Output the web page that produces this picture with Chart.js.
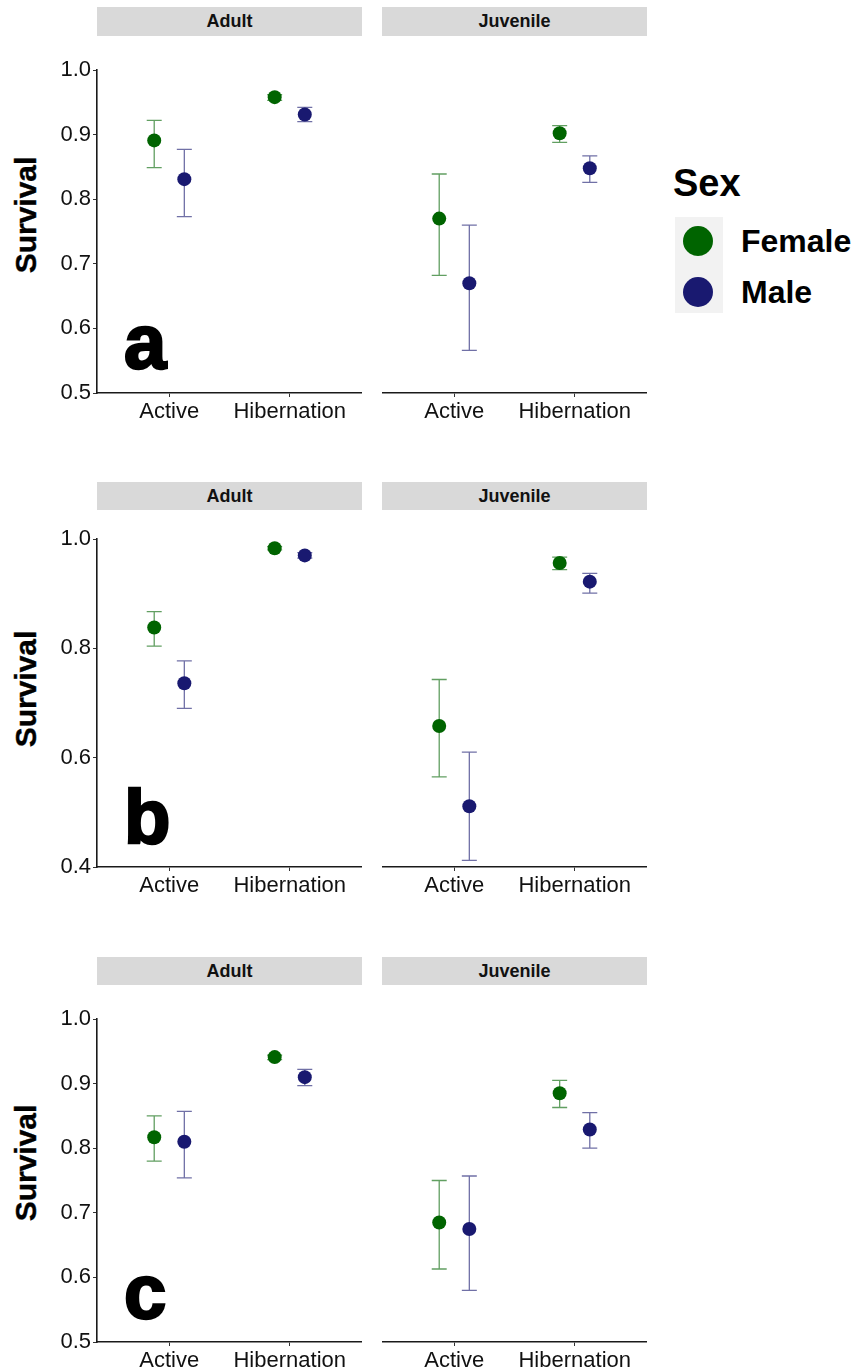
<!DOCTYPE html>
<html><head><meta charset="utf-8">
<script src="https://cdn.jsdelivr.net/npm/chart.js@4/dist/chart.umd.min.js"></script>
<style>
body{margin:0;background:#fff;width:858px;height:1367px;position:relative;overflow:hidden;font-family:"Liberation Sans",Arial,sans-serif;}
.cv{position:absolute;}
.strip{position:absolute;background:#d9d9d9;color:#111;font-weight:bold;font-size:18px;display:flex;align-items:center;justify-content:center;}
.ylab{position:absolute;font-weight:bold;font-size:30px;color:#000;transform:translate(-50%,-50%) rotate(-90deg);white-space:nowrap;-webkit-text-stroke:0.4px #000;}
.letter{position:absolute;font-weight:bold;font-size:76px;line-height:76px;color:#000;-webkit-text-stroke:2.5px #000;}
.leg{position:absolute;font-weight:bold;color:#000;white-space:nowrap;}
.dot{position:absolute;border-radius:50%;}
</style></head>
<body>
<script>
// ---- data ----
const seasons = ['Active', 'Hibernation'];
const ages = ['Adult', 'Juvenile'];
const sexes = ['Female', 'Male'];
const panelLetters = ['a', 'b', 'c'];

// Panel a
const a_Adult_Female = [0.891, 0.958], a_Adult_Female_lo = [0.849, 0.953], a_Adult_Female_hi = [0.922, 0.962];
const a_Adult_Male = [0.831, 0.931], a_Adult_Male_lo = [0.773, 0.920], a_Adult_Male_hi = [0.877, 0.942];
const a_Juvenile_Female = [0.770, 0.902], a_Juvenile_Female_lo = [0.682, 0.888], a_Juvenile_Female_hi = [0.839, 0.914];
const a_Juvenile_Male = [0.670, 0.848], a_Juvenile_Male_lo = [0.566, 0.826], a_Juvenile_Male_hi = [0.760, 0.867];
// Panel b
const b_Adult_Female = [0.838, 0.983], b_Adult_Female_lo = [0.804, 0.980], b_Adult_Female_hi = [0.867, 0.986];
const b_Adult_Male = [0.736, 0.970], b_Adult_Male_lo = [0.690, 0.965], b_Adult_Male_hi = [0.777, 0.975];
const b_Juvenile_Female = [0.658, 0.956], b_Juvenile_Female_lo = [0.565, 0.944], b_Juvenile_Female_hi = [0.743, 0.967];
const b_Juvenile_Male = [0.511, 0.922], b_Juvenile_Male_lo = [0.412, 0.901], b_Juvenile_Male_hi = [0.610, 0.937];
// Panel c
const c_Adult_Female = [0.817, 0.941], c_Adult_Female_lo = [0.780, 0.937], c_Adult_Female_hi = [0.850, 0.944];
const c_Adult_Male = [0.810, 0.910], c_Adult_Male_lo = [0.754, 0.897], c_Adult_Male_hi = [0.857, 0.922];
const c_Juvenile_Female = [0.685, 0.885], c_Juvenile_Female_lo = [0.613, 0.863], c_Juvenile_Female_hi = [0.750, 0.905];
const c_Juvenile_Male = [0.675, 0.829], c_Juvenile_Male_lo = [0.580, 0.800], c_Juvenile_Male_hi = [0.757, 0.855];

// y axis tick labels per row
const yTicksA = [0.5, 0.6, 0.7, 0.8, 0.9, 1.0];
const yTicksB = [0.4, 0.6, 0.8, 1.0];
const yTicksC = [0.5, 0.6, 0.7, 0.8, 0.9, 1.0];

const DATA = {
  a: {Adult: {Female: [a_Adult_Female, a_Adult_Female_lo, a_Adult_Female_hi], Male: [a_Adult_Male, a_Adult_Male_lo, a_Adult_Male_hi]},
      Juvenile: {Female: [a_Juvenile_Female, a_Juvenile_Female_lo, a_Juvenile_Female_hi], Male: [a_Juvenile_Male, a_Juvenile_Male_lo, a_Juvenile_Male_hi]}},
  b: {Adult: {Female: [b_Adult_Female, b_Adult_Female_lo, b_Adult_Female_hi], Male: [b_Adult_Male, b_Adult_Male_lo, b_Adult_Male_hi]},
      Juvenile: {Female: [b_Juvenile_Female, b_Juvenile_Female_lo, b_Juvenile_Female_hi], Male: [b_Juvenile_Male, b_Juvenile_Male_lo, b_Juvenile_Male_hi]}},
  c: {Adult: {Female: [c_Adult_Female, c_Adult_Female_lo, c_Adult_Female_hi], Male: [c_Adult_Male, c_Adult_Male_lo, c_Adult_Male_hi]},
      Juvenile: {Female: [c_Juvenile_Female, c_Juvenile_Female_lo, c_Juvenile_Female_hi], Male: [c_Juvenile_Male, c_Juvenile_Male_lo, c_Juvenile_Male_hi]}}
};
const YTICKS = {a: yTicksA, b: yTicksB, c: yTicksC};

// ---- styles / layout ----
const sexColor = {Female: '#006400', Male: '#191970'};
const barColor = {Female: 'rgba(0,100,0,0.62)', Male: 'rgba(25,25,112,0.62)'};
const dodge = {Female: -0.125, Male: 0.125};
const rows = [
  {key: 'a', plotTop: 70, plotBottom: 393, stripTop: 7, stripH: 29, ylabY: 215, letterTop: 304},
  {key: 'b', plotTop: 539, plotBottom: 867, stripTop: 482, stripH: 28, ylabY: 689, letterTop: 779},
  {key: 'c', plotTop: 1019, plotBottom: 1342, stripTop: 957, stripH: 28, ylabY: 1163, letterTop: 1254}
];
const panelX = {Adult: {left: 97, right: 362}, Juvenile: {left: 382, right: 647}};
const PADTOP = 12, XAXH = 34, YAXW = 47;

const errorBarPlugin = {
  id: 'errbars',
  beforeDatasetsDraw(chart) {
    const ctx = chart.ctx, xs = chart.scales.x, ys = chart.scales.y;
    chart.data.datasets.forEach(ds => {
      ctx.save();
      ctx.strokeStyle = ds.errColor;
      ctx.lineWidth = 1.3;
      ds.data.forEach(p => {
        const x = xs.getPixelForValue(p.x);
        const yl = ys.getPixelForValue(p.lo), yh = ys.getPixelForValue(p.hi);
        ctx.beginPath();
        ctx.moveTo(x, yl); ctx.lineTo(x, yh);
        ctx.moveTo(x - 7.5, yl); ctx.lineTo(x + 7.5, yl);
        ctx.moveTo(x - 7.5, yh); ctx.lineTo(x + 7.5, yh);
        ctx.stroke();
      });
      ctx.restore();
    });
  }
};

function addDiv(cls, styles, text) {
  const d = document.createElement('div');
  d.className = cls;
  Object.assign(d.style, styles);
  if (text !== undefined) d.textContent = text;
  document.body.appendChild(d);
  return d;
}

rows.forEach(row => {
  const ticks = YTICKS[row.key];
  const ymin = ticks[0], ymax = ticks[ticks.length - 1];
  ages.forEach(age => {
    const isAdult = age === 'Adult';
    const px = panelX[age];
    const cvLeft = isAdult ? px.left - YAXW : px.left;
    const cvW = px.right - cvLeft;
    const cvTop = row.plotTop - PADTOP;
    const cvH = (row.plotBottom - row.plotTop) + PADTOP + XAXH;
    addDiv('strip', {left: px.left + 'px', top: row.stripTop + 'px', width: (px.right - px.left) + 'px', height: row.stripH + 'px'}, age);
    const cv = document.createElement('canvas');
    cv.className = 'cv';
    cv.width = cvW; cv.height = cvH;
    Object.assign(cv.style, {left: cvLeft + 'px', top: cvTop + 'px', width: cvW + 'px', height: cvH + 'px'});
    document.body.appendChild(cv);
    const datasets = sexes.map(sex => {
      const [m, lo, hi] = DATA[row.key][age][sex];
      return {
        label: sex,
        data: seasons.map((s, i) => ({x: i + 1 + dodge[sex], y: m[i], lo: lo[i], hi: hi[i]})),
        backgroundColor: sexColor[sex],
        borderColor: sexColor[sex],
        pointRadius: 7,
        pointBorderWidth: 0,
        errColor: barColor[sex]
      };
    });
    new Chart(cv, {
      type: 'scatter',
      data: {datasets},
      options: {
        responsive: false, animation: false, devicePixelRatio: 1,
        clip: false,
        layout: {padding: {top: PADTOP, right: 0, left: 0, bottom: 0}, autoPadding: false},
        plugins: {legend: {display: false}, tooltip: {enabled: false}},
        scales: {
          x: {
            type: 'linear', min: 0.4, max: 2.6,
            afterBuildTicks: sc => { sc.ticks = seasons.map((s, i) => ({value: i + 1})); },
            afterFit: sc => { sc.height = XAXH; sc.paddingLeft = 0; sc.paddingRight = 0; },
            ticks: {callback: v => seasons[Math.round(v) - 1], color: '#111', font: {family: '"Liberation Sans", Arial', size: 22}, padding: 2, maxRotation: 0, autoSkip: false},
            grid: {drawOnChartArea: false, drawTicks: true, tickLength: 4, color: '#333', lineWidth: 1},
            border: {display: true, color: '#1a1a1a', width: 1.6}
          },
          y: {
            display: isAdult,
            min: ymin, max: ymax,
            afterBuildTicks: sc => { sc.ticks = ticks.map(v => ({value: v})); },
            afterFit: sc => { sc.width = isAdult ? YAXW : 0; sc.paddingTop = 0; sc.paddingBottom = 0; },
            ticks: {callback: v => v.toFixed(1), color: '#111', font: {family: '"Liberation Sans", Arial', size: 22}, padding: 2},
            grid: {drawOnChartArea: false, drawTicks: true, tickLength: 4, color: '#333', lineWidth: 1},
            border: {display: true, color: '#1a1a1a', width: 1.6}
          }
        }
      },
      plugins: [errorBarPlugin]
    });
  });
  addDiv('ylab', {left: '26px', top: row.ylabY + 'px'}, 'Survival');
  addDiv('letter', {left: '124px', top: row.letterTop + 'px'}, row.key);
});

// legend
addDiv('leg', {left: '673px', top: '163px', fontSize: '38px', lineHeight: '40px'}, 'Sex');
addDiv('', {position: 'absolute', left: '675px', top: '217px', width: '48px', height: '96px', background: '#f2f2f2'});
sexes.forEach((sex, i) => {
  const cy = 241 + i * 51;
  addDiv('dot', {left: (698 - 15) + 'px', top: (cy - 15) + 'px', width: '30px', height: '30px', background: sexColor[sex]});
  addDiv('leg', {left: '741px', top: (cy - 18) + 'px', fontSize: '32px', lineHeight: '36px'}, sex);
});
</script>
</body></html>
